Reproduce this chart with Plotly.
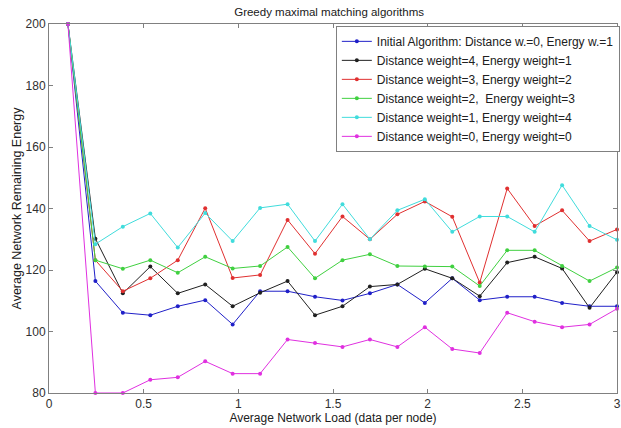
import plotly.graph_objects as go

# Average network load (data per node)
load = [0.1, 0.245, 0.39, 0.535, 0.68, 0.825, 0.97, 1.115, 1.26, 1.405, 1.55,
        1.695, 1.84, 1.985, 2.13, 2.275, 2.42, 2.565, 2.71, 2.855, 3.0]

# Average remaining energy per weighting scheme
initial_alg = [200, 116.4, 106.1, 105.3, 108.2, 110.2, 102.3, 113.1, 113.1, 111.3, 110.1,
               112.4, 115.3, 109.3, 117.3, 110.2, 111.3, 111.3, 109.3, 108.2, 108.2]
dist4_en1 = [200, 130.2, 112.4, 121.1, 112.4, 115.3, 108.2, 112.6, 116.4, 105.3, 108.2,
             114.6, 115.3, 120.4, 117.3, 111.5, 122.4, 124.3, 120.5, 107.7, 119.3]
dist3_en2 = [200, 123.2, 113.1, 117.3, 123.2, 140.1, 117.4, 118.4, 136.3, 125.3, 137.4,
             130.0, 138.1, 142.3, 137.3, 115.9, 146.5, 134.3, 139.4, 129.4, 133.2]
dist2_en3 = [200, 123.2, 120.4, 123.2, 119.1, 124.3, 120.5, 121.3, 127.5, 117.3, 123.2,
             125.1, 121.3, 121.1, 121.1, 114.8, 126.4, 126.4, 121.3, 116.4, 120.8]
dist1_en4 = [200, 128.4, 134.1, 138.4, 127.3, 138.5, 129.4, 140.2, 141.4, 129.4, 141.4,
             130.0, 139.4, 143.0, 132.4, 137.4, 137.4, 132.4, 147.6, 134.3, 129.8]
dist0_en0 = [200, 80, 80, 84.3, 85.1, 90.3, 86.3, 86.3, 97.4, 96.3, 95.0,
             97.4, 95.0, 101.4, 94.3, 93.0, 106.1, 103.2, 101.4, 102.3, 107.4]

series = [
    ("Initial Algorithm: Distance w.=0, Energy w.=1", initial_alg, "#2020c8"),
    ("Distance weight=4, Energy weight=1", dist4_en1, "#202020"),
    ("Distance weight=3, Energy weight=2", dist3_en2, "#e03030"),
    ("Distance weight=2,\u00a0 Energy weight=3", dist2_en3, "#40d040"),
    ("Distance weight=1, Energy weight=4", dist1_en4, "#40dcdc"),
    ("Distance weight=0, Energy weight=0", dist0_en0, "#e030e0"),
]

font_family = "Arial, Liberation Sans, sans-serif"

fig = go.Figure()
for name, values, color in series:
    fig.add_trace(go.Scatter(
        x=load, y=values, name=name, mode="lines+markers",
        line=dict(color=color, width=1),
        marker=dict(color=color, size=4),
        cliponaxis=False,
    ))

axis_style = dict(
    showgrid=False, zeroline=False,
    showline=True, linecolor="#808080", linewidth=1, mirror="ticks",
    ticks="inside", ticklen=4, tickcolor="#808080",
    ticklabeloverflow="allow",
    tickfont=dict(family=font_family, size=12, color="#303030"),
)

fig.update_layout(
    width=621, height=428,
    margin=dict(l=49, r=1, t=24, b=35),
    paper_bgcolor="white", plot_bgcolor="white",
    title=dict(text="Greedy maximal matching algorithms",
               font=dict(family=font_family, size=11.5, color="#202020"),
               x=0.53, xanchor="center", y=0.972, yanchor="middle"),
    xaxis=dict(range=[0, 3], tickvals=[0, 0.5, 1, 1.5, 2, 2.5, 3],
               ticktext=["0", "0.5", "1", "1.5", "2", "2.5", "3"],
               title=dict(text="Average Network Load (data per node)",
                          font=dict(family=font_family, size=12, color="#202020"),
                          standoff=0),
               **axis_style),
    yaxis=dict(range=[80, 200], tickvals=[80, 100, 120, 140, 160, 180, 200],
               title=dict(text="Average Network Remaining Energy",
                          font=dict(family=font_family, size=12.5, color="#202020"),
                          standoff=1),
               **axis_style),
    legend=dict(x=0.505, y=0.995, xanchor="left", yanchor="top",
                bgcolor="white", bordercolor="#808080", borderwidth=1,
                font=dict(family=font_family, size=12, color="#202020"),
                tracegroupgap=0),
    showlegend=True,
)

fig.write_html("out.html")
